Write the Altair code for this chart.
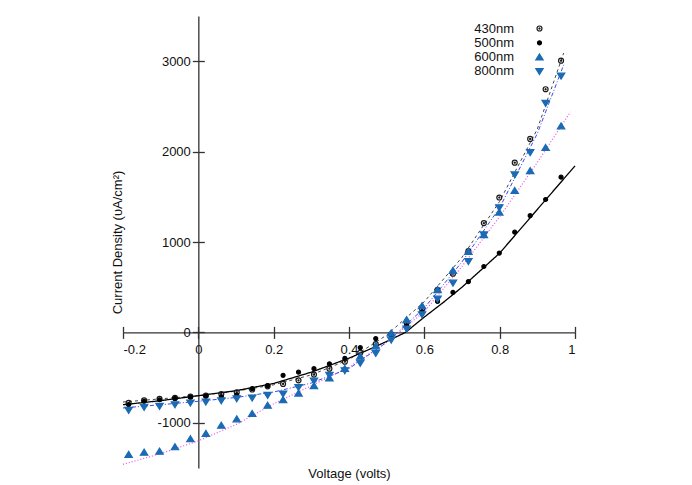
import altair as alt
import pandas as pd

# ---------------- data ----------------
volts = [-0.185, -0.144, -0.103, -0.062, -0.021, 0.020, 0.061, 0.102, 0.143, 0.184,
         0.225, 0.266, 0.307, 0.348, 0.389, 0.430, 0.471, 0.512, 0.553, 0.594,
         0.635, 0.676, 0.717, 0.758, 0.799, 0.840, 0.881, 0.922, 0.963]

j430 = [-780, -751, -736, -725, -710, -699, -681, -663, -632, -597,
        -570, -530, -467, -401, -324, -225, -130, -20, 110, 260,
        470, 650, 900, 1209, 1492, 1878, 2140, 2690, 3006]
j500 = [-800, -762, -745, -730, -716, -705, -714, -693, -622, -588,
        -475, -440, -401, -348, -287, -169, -68, -25, 74, 226,
        343, 442, 562, 729, 877, 1109, 1291, 1470, 1717]
j600 = [-1351, -1326, -1315, -1266, -1178, -1119, -1028, -957, -898, -807,
        -745, -672, -589, -505, -400, -265, -150, -7, 140, 295,
        472, 685, 895, 1080, 1330, 1569, 1789, 2044, 2284]
j800 = [-862, -829, -818, -799, -780, -769, -755, -733, -725, -696,
        -680, -608, -538, -475, -423, -340, -230, -85, 38, 196,
        369, 546, 785, 1080, 1380, 1743, 1989, 2535, 2836]

series_names = ["430nm", "500nm", "600nm", "800nm"]

# fitted curves
fit430_x = [-0.2, -0.1, 0.0, 0.1, 0.2, 0.3, 0.4, 0.5, 0.6, 0.7, 0.8, 0.9, 0.97]
fit430_y = [-770, -735, -700, -650, -580, -470, -300, -30, 340, 830, 1450, 2250, 3090]
fit500_x = [-0.2, -0.1, 0.0, 0.1, 0.2, 0.3, 0.4, 0.45, 0.5, 0.55, 0.6, 0.65, 0.7, 0.8, 0.9, 1.0]
fit500_y = [-800, -755, -700, -645, -565, -440, -285, -195, -100, 0, 170, 330, 500, 877, 1360, 1842]
fit600_x = [-0.2, -0.1, 0.0, 0.1, 0.2, 0.3, 0.4, 0.5, 0.6, 0.7, 0.8, 0.9, 0.988]
fit600_y = [-1460, -1340, -1200, -1020, -790, -590, -385, -110, 230, 730, 1280, 1880, 2440]
fit800_x = [-0.2, -0.1, 0.0, 0.1, 0.2, 0.3, 0.4, 0.5, 0.6, 0.7, 0.8, 0.9, 0.97]
fit800_y = [-836, -800, -762, -720, -660, -560, -400, -110, 270, 780, 1380, 2200, 2960]

x_ticks = [-0.2, 0, 0.2, 0.4, 0.6, 0.8, 1]
y_ticks = [-1000, 0, 1000, 2000, 3000]
x_domain = [-0.2, 1.0]
y_domain = [-1500, 3500]

# ---------------- tables ----------------
pts = pd.DataFrame({
    "V": volts * 4,
    "J": j430 + j500 + j600 + j800,
    "series": sum([[s] * len(volts) for s in series_names], []),
})

def fit_df(xs, ys):
    return pd.DataFrame({"V": xs, "J": ys})

# ---------------- layout ----------------
W, H = 452, 452
FONT = "Liberation Sans"
AX = "#333333"
BLUE = "#1a6ab4"
x0_px = W * (0 - x_domain[0]) / (x_domain[1] - x_domain[0])
y0_px = H * (y_domain[1] - 0) / (y_domain[1] - y_domain[0])

xs = alt.Scale(domain=x_domain, nice=False, zero=False)
ys = alt.Scale(domain=y_domain, nice=False, zero=False)

common = dict(grid=False, domainColor=AX, domainWidth=1.3, tickColor=AX, tickWidth=1.3,
              tickSize=6, labelFont=FONT, labelFontSize=13, labelColor="#111",
              titleFont=FONT, titleFontSize=13, titleFontWeight="normal", titleColor="#111")
tick_only = {k: v for k, v in common.items() if not k.startswith(("label", "title", "domain"))}

x_main = alt.Axis(orient="bottom", offset=-(H - y0_px), values=x_ticks,
                  labelExpr="toString(datum.value)", labelPadding=5,
                  title="Voltage (volts)", titleX=W / 2, titleY=H - y0_px + 5,
                  titleBaseline="middle", **common)
y_main = alt.Axis(orient="left", offset=-x0_px, values=y_ticks,
                  labelExpr="toString(datum.value)", labelPadding=2,
                  title="Current Density (υA/cm²)", titleX=-x0_px - 6, titleY=H / 2,
                  titleAngle=-90, titleBaseline="middle", titleAlign="center", **common)
x_ticks_up = alt.Axis(orient="top", offset=-y0_px, values=x_ticks, labels=False,
                      domain=False, title=None, **tick_only)
y_ticks_right = alt.Axis(orient="right", offset=-(W - x0_px), values=y_ticks, labels=False,
                         domain=False, title=None, **tick_only)

# marker outlines (unit box, scaled by the mark size)
circle_dot = ("M-0.62,0A0.62,0.62 0 1,0 0.62,0A0.62,0.62 0 1,0 -0.62,0Z "
              "M-0.14,0A0.14,0.14 0 1,0 0.14,0A0.14,0.14 0 1,0 -0.14,0Z")
dot = "M-0.5,0A0.5,0.5 0 1,0 0.5,0A0.5,0.5 0 1,0 -0.5,0Z"
tri_up = "M0,-0.78L0.92,0.72L-0.92,0.72Z"
tri_down = "M0,0.78L0.92,-0.72L-0.92,-0.72Z"

leg = alt.Legend(orient="none", legendX=410, legendY=6, title=None,
                 labelAlign="right", labelOffset={"expr": "-32"}, labelFont=FONT, labelFontSize=13,
                 labelColor="#111", rowPadding=0.3, padding=0, symbolStrokeWidth=1.2,
                 symbolOpacity=1, symbolSize=64)

dom = series_names
points = alt.Chart(pts).mark_point(opacity=1, strokeWidth=1.2, size=64).encode(
    x=alt.X("V:Q", scale=xs, axis=x_main),
    y=alt.Y("J:Q", scale=ys, axis=y_main),
    shape=alt.Shape("series:N", scale=alt.Scale(domain=dom, range=[circle_dot, dot, tri_up, tri_down]), legend=leg),
    fill=alt.Fill("series:N", scale=alt.Scale(domain=dom, range=["transparent", "#000000", BLUE, BLUE]), legend=leg),
    stroke=alt.Stroke("series:N", scale=alt.Scale(domain=dom, range=["#1a1a1a", "#000000", BLUE, BLUE]), legend=leg),
)

def fit_line(xs_, ys_, color, dash, width, axes=False):
    enc_x = alt.X("V:Q", scale=xs, axis=x_ticks_up if axes else None)
    enc_y = alt.Y("J:Q", scale=ys, axis=y_ticks_right if axes else None)
    m = alt.Chart(fit_df(xs_, ys_)).mark_line(color=color, strokeWidth=width,
                                              strokeDash=dash if dash else [1, 0])
    return m.encode(x=enc_x, y=enc_y)

l430 = fit_line(fit430_x, fit430_y, "#444444", [3, 3], 1, axes=True)
l500 = fit_line(fit500_x, fit500_y, "#000000", None, 1.3)
l600 = fit_line(fit600_x, fit600_y, "#f04cf0", [1, 2], 1.2)
l800 = fit_line(fit800_x, fit800_y, "#3a48f0", [4, 2, 1, 2], 1)

chart = alt.layer(l430, l500, l600, l800, points).resolve_axis(
    x="independent", y="independent"
).properties(
    width=W, height=H,
    autosize=alt.AutoSizeParams(type="none"),
    padding={"left": 115, "top": 8, "right": 109, "bottom": 15},
).configure_view(stroke=None)

chart.save("out.html", embed_options={"renderer": "svg", "actions": False})
